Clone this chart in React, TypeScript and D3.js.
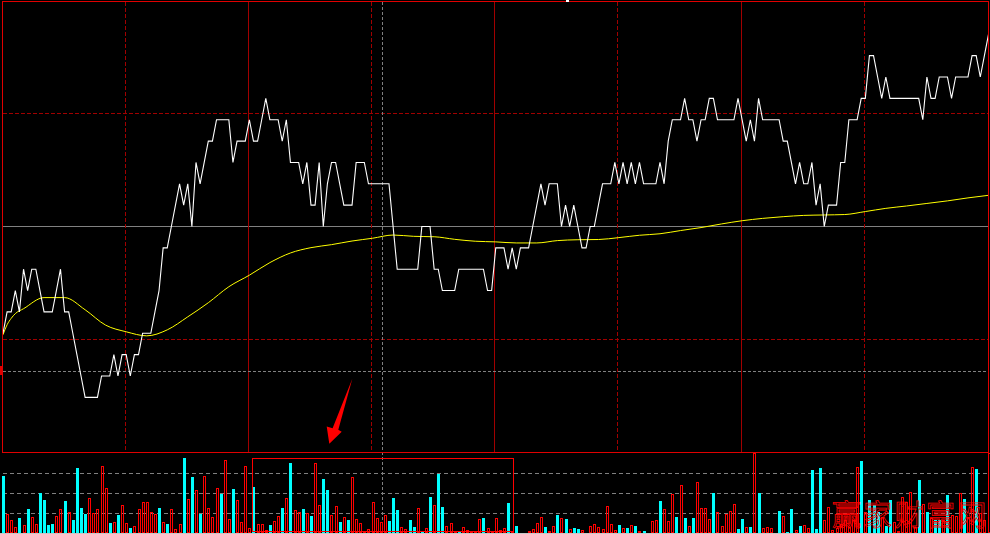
import React from "react";
import * as d3 from "d3";

// ---- data ----
const PREV_CLOSE = 10.0;
const PRICE_HALF_RANGE = 0.1056;
const MINUTES = 240;

const prices = [
  9.95, 9.96, 9.96, 9.97, 9.96, 9.98, 9.97, 9.98, 9.98, 9.97,
  9.96, 9.96, 9.96, 9.97, 9.98, 9.96, 9.96, 9.95, 9.94, 9.93,
  9.92, 9.92, 9.92, 9.92, 9.93, 9.93, 9.93, 9.94, 9.93, 9.94,
  9.94, 9.93, 9.94, 9.94, 9.95, 9.95, 9.95, 9.96, 9.97, 9.99,
  9.99, 10.0, 10.01, 10.02, 10.01, 10.02, 10.0, 10.03, 10.02, 10.03,
  10.04, 10.04, 10.05, 10.05, 10.05, 10.05, 10.03, 10.04, 10.04, 10.04,
  10.05, 10.04, 10.04, 10.05, 10.06, 10.05, 10.05, 10.05, 10.04, 10.05,
  10.03, 10.03, 10.03, 10.02, 10.03, 10.01, 10.01, 10.03, 10.0, 10.02,
  10.03, 10.03, 10.02, 10.01, 10.01, 10.01, 10.03, 10.03, 10.03, 10.02,
  10.02, 10.02, 10.02, 10.02, 10.02, 10.0, 9.98, 9.98, 9.98, 9.98,
  9.98, 9.98, 10.0, 10.0, 10.0, 9.98, 9.98, 9.97, 9.97, 9.97,
  9.97, 9.98, 9.98, 9.98, 9.98, 9.98, 9.98, 9.98, 9.97, 9.97,
  9.99, 9.99, 9.99, 9.98, 9.99, 9.98, 9.99, 9.99, 9.99, 10.0,
  10.01, 10.02, 10.01, 10.02, 10.02, 10.02, 10.0, 10.01, 10.0, 10.01,
  10.0, 9.99, 9.99, 10.0, 10.0, 10.01, 10.02, 10.02, 10.02, 10.03,
  10.02, 10.03, 10.02, 10.03, 10.02, 10.03, 10.02, 10.02, 10.02, 10.02,
  10.03, 10.02, 10.04, 10.05, 10.05, 10.05, 10.06, 10.05, 10.05, 10.04,
  10.05, 10.05, 10.06, 10.06, 10.05, 10.05, 10.05, 10.05, 10.05, 10.06,
  10.05, 10.04, 10.05, 10.04, 10.06, 10.05, 10.05, 10.05, 10.05, 10.05,
  10.04, 10.04, 10.03, 10.02, 10.03, 10.02, 10.02, 10.03, 10.01, 10.02,
  10.0, 10.01, 10.01, 10.01, 10.03, 10.03, 10.05, 10.05, 10.05, 10.06,
  10.06, 10.08, 10.08, 10.07, 10.06, 10.07, 10.06, 10.06, 10.06, 10.06,
  10.06, 10.06, 10.06, 10.06, 10.05, 10.07, 10.06, 10.06, 10.07, 10.07,
  10.07, 10.06, 10.07, 10.07, 10.07, 10.07, 10.08, 10.08, 10.07, 10.08,
  10.09,
];

const avgMinutes = [
  0, 1, 2, 3, 5, 10, 15, 20, 25, 30, 35, 40, 45, 50, 55, 60, 65, 70, 75, 80,
  85, 90, 95, 100, 105, 110, 115, 120, 125, 130, 135, 140, 145, 150, 155, 160,
  165, 170, 175, 180, 185, 190, 195, 200, 205, 210, 215, 220, 225, 230, 235, 240,
];
const avgPrices = [
  9.9493, 9.954, 9.957, 9.9592, 9.9615, 9.9667, 9.9667, 9.961, 9.9538, 9.9507,
  9.9488, 9.9516, 9.9577, 9.9643, 9.9718, 9.9772, 9.9831, 9.9876, 9.9901, 9.9915,
  9.9932, 9.9945, 9.996, 9.9954, 9.9952, 9.994, 9.9931, 9.9928, 9.9923, 9.9923,
  9.9934, 9.9938, 9.9939, 9.9948, 9.9959, 9.9966, 9.9981, 9.9995, 10.0012, 10.0027,
  10.0038, 10.0046, 10.0052, 10.0054, 10.0056, 10.007, 10.0085, 10.0096, 10.0108, 10.012,
  10.0134, 10.0146,
];

const volumes = [
  2850, 950, 650, 300, 750, 400, 1200, 800, 450, 2000,
  1650, 400, 450, 850, 1200, 1600, 1050, 650, 3250, 1250,
  950, 1750, 1000, 1200, 3350, 2250, 500, 550, 900, 1400,
  500, 250, 350, 1200, 1550, 1550, 1050, 950, 1250, 550,
  450, 1200, 200, 450, 3750, 1700, 2800, 2150, 950, 2850,
  1250, 800, 2250, 1950, 3650, 700, 2200, 1650, 550, 3350,
  250, 2300, 450, 450, 150, 400, 600, 850, 1250, 1750,
  3500, 1150, 1050, 1200, 1000, 850, 3500, 1400, 2700, 2150,
  900, 1350, 550, 800, 650, 2800, 700, 500, 100, 200,
  1550, 750, 550, 900, 600, 1750, 1150, 300, 200, 650,
  300, 1250, 50, 250, 1800, 1400, 2950, 1300, 350, 500,
  100, 50, 300, 150, 100, 100, 700, 750, 250, 100,
  750, 150, 250, 1500, 100, 350, 50, 50, 100, 200,
  500, 800, 300, 100, 350, 900, 750, 700, 200, 250,
  200, 150, 50, 350, 450, 300, 200, 1350, 450, 150,
  400, 250, 250, 400, 350, 100, 100, 50, 600, 650,
  1600, 1200, 600, 1950, 800, 2400, 750, 350, 750, 2550,
  1250, 1250, 700, 2000, 1050, 350, 950, 1100, 1450, 200,
  700, 300, 300, 4000, 2000, 250, 300, 250, 50, 1100,
  850, 50, 1200, 150, 350, 400, 250, 3150, 200, 3250,
  650, 1300, 150, 250, 450, 650, 300, 650, 3300, 3600,
  1050, 1650, 1400, 1050, 800, 350, 1650, 550, 100, 1800,
  1550, 2050, 300, 2650, 1450, 1050, 750, 650, 650, 650,
  1900, 900, 850, 2000, 1700, 800, 3300, 3200, 1000, 650,
  4000,
];
const VOLUME_MAX = 4000;

// 1 = up minute (red hollow bar), 0 = down minute (cyan solid bar)
const barUp = [
  0, 1, 1, 1, 0, 1, 0, 1, 1, 0, 0, 0, 0, 1, 1, 0, 1, 0, 0, 0,
  0, 1, 1, 1, 1, 1, 0, 1, 0, 1, 1, 0, 1, 1, 1, 1, 1, 1, 0, 1,
  0, 1, 1, 1, 0, 1, 0, 1, 0, 1, 1, 1, 1, 0, 1, 1, 0, 1, 1, 1,
  1, 0, 1, 1, 1, 0, 1, 1, 0, 1, 0, 1, 1, 0, 1, 0, 1, 1, 0, 0,
  1, 1, 0, 1, 0, 1, 1, 1, 1, 1, 1, 1, 1, 1, 0, 0, 0, 1, 1, 0,
  0, 1, 0, 1, 0, 1, 0, 0, 1, 1, 1, 0, 1, 1, 1, 1, 1, 0, 1, 1,
  1, 1, 1, 0, 1, 0, 1, 1, 1, 1, 1, 1, 0, 1, 1, 0, 1, 0, 1, 0,
  0, 1, 1, 1, 1, 1, 1, 1, 1, 1, 0, 1, 0, 1, 0, 1, 0, 1, 1, 1,
  0, 1, 1, 1, 0, 1, 0, 1, 0, 1, 1, 1, 1, 0, 1, 1, 1, 1, 1, 0,
  0, 1, 0, 1, 0, 1, 1, 1, 1, 0, 1, 0, 0, 1, 0, 1, 1, 0, 0, 0,
  1, 1, 1, 1, 1, 1, 1, 1, 1, 0, 1, 0, 0, 0, 1, 0, 0, 1, 1, 1,
  1, 1, 1, 0, 1, 0, 1, 0, 0, 1, 0, 1, 1, 1, 0, 1, 1, 0, 1, 1,
  1,
];

const dashedMinutes = [30, 90, 150, 210];
const solidMinutes = [60, 120, 180];
const watermark = ["赢", "家", "财", "富", "网"];

// ---- layout ----
const W = 990;
const H = 534;
const L = 2;
const R = 987.5;
const MAIN_TOP = 1;
const MAIN_BOTTOM = 452;
const VOL_TOP = 453;
const VOL_BOTTOM = 533;

const crisp = (v: number) => Math.floor(v) + 0.5;

export default function App() {
  const x = d3.scaleLinear().domain([0, MINUTES]).range([L, R]);
  const y = d3
    .scaleLinear()
    .domain([PREV_CLOSE - PRICE_HALF_RANGE, PREV_CLOSE + PRICE_HALF_RANGE])
    .range([MAIN_BOTTOM, MAIN_TOP]);
  const v = d3.scaleLinear().domain([0, VOLUME_MAX]).range([VOL_BOTTOM, VOL_TOP]);

  const priceLine = d3
    .line<number>()
    .x((_, i) => x(i) + 1)
    .y((d) => y(d))(prices) as string;

  const avgLine = d3
    .line<number>()
    .x((_, i) => x(avgMinutes[i]) + 1)
    .y((d) => y(d))
    .curve(d3.curveMonotoneX)(avgPrices) as string;

  const hLines = [0.25, 0.75].map((f) =>
    crisp(y(PREV_CLOSE + PRICE_HALF_RANGE - 2 * PRICE_HALF_RANGE * f))
  );
  const centerY = crisp(y(PREV_CLOSE));
  const volGrid = [1000, 2000, 3000].map((d) => crisp(v(d)));

  return (
    <svg
      width={W}
      height={H}
      style={{ position: "fixed", left: 0, top: 0, display: "block", background: "#000" }}
    >
      <rect x={0} y={0} width={W} height={H} fill="#000" />

      {/* main grid */}
      {hLines.map((yy, k) => (
        <line key={"h" + k} x1={3} x2={988} y1={yy} y2={yy} stroke="#a00000" strokeDasharray="4,2" />
      ))}
      <line x1={3} x2={988} y1={centerY} y2={centerY} stroke="#808080" />
      {dashedMinutes.map((m) => (
        <line key={"dv" + m} x1={crisp(x(m))} x2={crisp(x(m))} y1={2} y2={MAIN_BOTTOM} stroke="#a00000" strokeDasharray="4,2" />
      ))}
      {solidMinutes.map((m) => (
        <line key={"sv" + m} x1={crisp(x(m))} x2={crisp(x(m))} y1={2} y2={MAIN_BOTTOM} stroke="#a00000" />
      ))}

      {/* crosshair */}
      <line x1={3} x2={988} y1={371.5} y2={371.5} stroke="#808080" strokeDasharray="3,2" />
      <line x1={382.5} x2={382.5} y1={2} y2={H} stroke="#808080" strokeDasharray="3,2" />

      {/* volume grid */}
      {volGrid.map((yy, k) => (
        <line key={"vg" + k} x1={3} x2={988} y1={yy} y2={yy} stroke="#808080" strokeDasharray="4,3" />
      ))}
      <line x1={0} x2={W} y1={VOL_BOTTOM + 0.5} y2={VOL_BOTTOM + 0.5} stroke="#c8c8c8" />

      {/* volume bars */}
      {volumes.map((d, i) => {
        const left = Math.round(x(i));
        const top = Math.round(v(d));
        const h = VOL_BOTTOM - top;
        return barUp[i] ? (
          <rect key={"b" + i} x={left + 0.5} y={top + 0.5} width={2} height={Math.max(h - 1, 0)} fill="none" stroke="#ff0000" />
        ) : (
          <rect key={"b" + i} x={left} y={top} width={3} height={h} fill="#00ffff" />
        );
      })}

      {/* average and price lines */}
      <path d={avgLine} fill="none" stroke="#ffff00" strokeWidth={1} />
      <path d={priceLine} fill="none" stroke="#ffffff" strokeWidth={1.1} />

      {/* main border */}
      <rect x={2.5} y={1.5} width={986} height={451} fill="none" stroke="#e00000" />

      {/* small markers */}
      <rect x={566} y={0} width={3} height={2} fill="#ffffff" />
      <rect x={0} y={366} width={2} height={9} fill="#e00000" />

      {/* highlight box */}
      <rect x={252.5} y={458.5} width={261} height={73} fill="none" stroke="#ff0000" />

      {/* arrow */}
      <polygon
        points="352.3,378.7 338.3,429.8 341.7,431.7 329.3,443.7 326.7,426.5 332.6,428.2"
        fill="#ff0000"
      />

      {/* watermark */}
      {watermark.map((c, k) => (
        <text
          key={"w" + k}
          x={832 + k * 31.3}
          y={526}
          fontSize={29}
          fontFamily="'Noto Sans CJK SC', sans-serif"
          fill="none"
          stroke="#ff0000"
          strokeWidth={0.8}
        >
          {c}
        </text>
      ))}
    </svg>
  );
}
